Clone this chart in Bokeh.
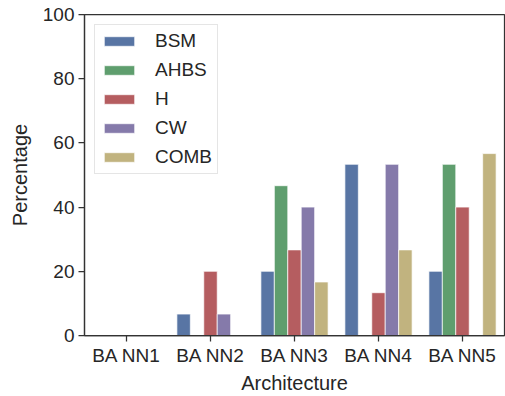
from bokeh.plotting import figure
from bokeh.models import ColumnDataSource, FactorRange, Range1d, FixedTicker, Legend, LegendItem
from bokeh.transform import dodge
from bokeh.embed import file_html
from bokeh.resources import INLINE

# Data: share (%) of each method per architecture
architectures = ["BA NN1", "BA NN2", "BA NN3", "BA NN4", "BA NN5"]
bsm = [0.0, 6.67, 20.0, 53.33, 20.0]
ahbs = [0.0, 0.0, 46.67, 0.0, 53.33]
h = [0.0, 20.0, 26.67, 13.33, 40.0]
cw = [0.0, 6.67, 40.0, 53.33, 0.0]
comb = [0.0, 0.0, 16.67, 26.67, 56.67]
series_names = ["BSM", "AHBS", "H", "CW", "COMB"]
y_ticks = [0, 20, 40, 60, 80, 100]

colors = ["#5875a4", "#5f9e6e", "#b55d60", "#857aaa", "#c1b37f"]
FONT = "Liberation Sans"
TEXT = "#262626"

source = ColumnDataSource(dict(arch=architectures, BSM=bsm, AHBS=ahbs, H=h, CW=cw, COMB=comb))

p = figure(
    width=505, height=396,
    x_range=FactorRange(*architectures, range_padding=0),
    y_range=Range1d(0, 100),
    output_backend="svg", toolbar_location=None,
    min_border_left=84, min_border_right=1, min_border_top=14, min_border_bottom=60,
)

n = len(series_names)
bar_w = 0.8 / n
items = []
for i, (name, col) in enumerate(zip(series_names, colors)):
    offset = (i - (n - 1) / 2) * bar_w
    r = p.vbar(x=dodge("arch", offset, range=p.x_range), top=name, width=bar_w,
               source=source, fill_color=col, line_color="white", line_width=0.7)
    items.append(LegendItem(label=name, renderers=[r]))

legend = Legend(items=items, location="top_left", margin=10,
                glyph_width=38, glyph_height=12, label_standoff=17,
                padding=5, spacing=7, label_height=18,
                label_text_font=FONT, label_text_font_size="19px", label_text_color=TEXT,
                background_fill_color="white", background_fill_alpha=0.8,
                border_line_color="#cccccc", border_line_width=1)
p.add_layout(legend)

p.xgrid.visible = False
p.ygrid.visible = False
p.outline_line_color = "#333333"
p.outline_line_width = 1.25

for ax in (p.xaxis, p.yaxis):
    ax.axis_line_color = "#333333"
    ax.axis_line_width = 1.25
    ax.major_tick_line_color = "#333333"
    ax.major_tick_line_width = 1.25
    ax.major_tick_out = 6
    ax.major_tick_in = 0
    ax.minor_tick_line_color = None
    ax.major_label_text_font = FONT
    ax.major_label_text_font_size = "19px"
    ax.major_label_text_color = TEXT
    ax.axis_label_text_font = FONT
    ax.axis_label_text_font_size = "20px"
    ax.axis_label_text_font_style = "normal"
    ax.axis_label_text_color = TEXT

p.yaxis.ticker = FixedTicker(ticks=y_ticks)
p.yaxis.major_label_standoff = 4
p.yaxis.axis_label = "Percentage"
p.yaxis.axis_label_standoff = 9
p.xaxis.major_label_standoff = 3
p.xaxis.axis_label = "Architecture"
p.xaxis.axis_label_standoff = 3
p.xaxis.group_text_font_size = "0px"

open("out.html", "w").write(file_html(p, INLINE))
